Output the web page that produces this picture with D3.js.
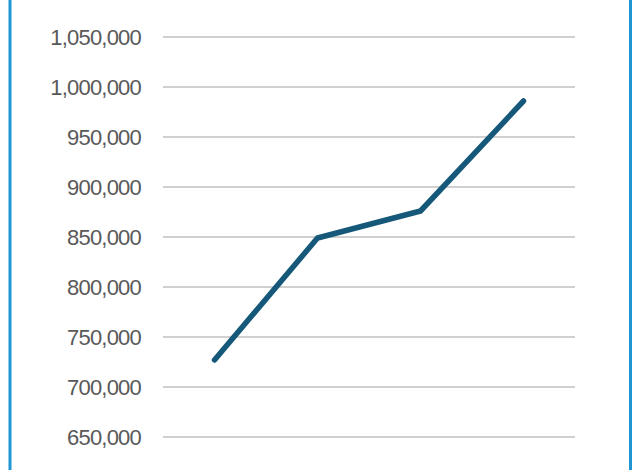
<!DOCTYPE html>
<html>
<head>
<meta charset="utf-8">
<script src="https://cdn.jsdelivr.net/npm/d3@7"></script>
<style>
  html, body { margin: 0; padding: 0; background: #ffffff; }
  svg { display: block; }
</style>
</head>
<body>
<svg id="chart" width="634" height="470"></svg>
<script>
// Data
const categories = ["P1", "P2", "P3", "P4"];
const values = [727000, 849000, 876000, 986000];
const tickValues = [650000, 700000, 750000, 800000, 850000, 900000, 950000, 1000000, 1050000];

const svg = d3.select("#chart");
const W = 634, H = 470;

// Frame (left/right blue borders)
svg.append("rect").attr("x", 8.5).attr("y", -5).attr("width", 3).attr("height", H + 10).attr("fill", "#1f96d4");
svg.append("rect").attr("x", 629).attr("y", -5).attr("width", 3).attr("height", H + 10).attr("fill", "#1f96d4");

// Scales
const x = d3.scalePoint().domain(categories).range([163, 575]).padding(0.5);
const y = d3.scaleLinear().domain([650000, 1050000]).range([437, 37]);

// Gridlines
svg.append("g")
  .selectAll("line")
  .data(tickValues)
  .join("line")
  .attr("x1", 163).attr("x2", 575)
  .attr("y1", d => Math.round(y(d)))
  .attr("y2", d => Math.round(y(d)))
  .attr("stroke", "#d0d0d0")
  .attr("stroke-width", 2);

// Y axis labels
const yAxis = d3.axisLeft(y)
  .tickValues(tickValues)
  .tickFormat(d3.format(","))
  .tickSize(0)
  .tickPadding(0);
const gy = svg.append("g").attr("transform", "translate(141,0)").call(yAxis);
gy.select(".domain").remove();
gy.selectAll("text")
  .attr("fill", "#595959")
  .attr("font-family", "'Liberation Sans', Arial, sans-serif")
  .attr("font-size", 22)
  .attr("letter-spacing", "-0.8px")
  .attr("dy", "0.35em");

// Line
const line = d3.line()
  .x((d, i) => x(categories[i]))
  .y(d => y(d));
svg.append("path")
  .datum(values)
  .attr("d", line)
  .attr("fill", "none")
  .attr("stroke", "#15587a")
  .attr("stroke-width", 5.5)
  .attr("stroke-linecap", "round")
  .attr("stroke-linejoin", "round");
</script>
</body>
</html>
